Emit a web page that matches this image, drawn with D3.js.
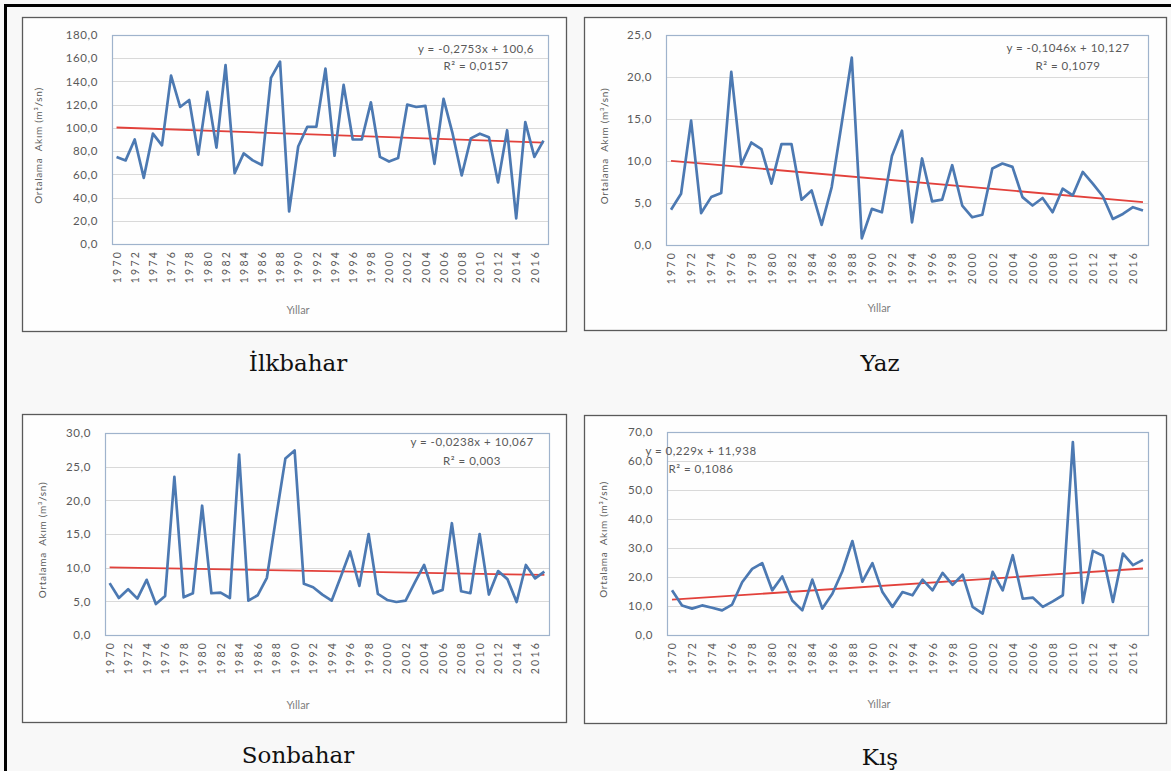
<!DOCTYPE html>
<html><head><meta charset="utf-8">
<script src="https://cdn.jsdelivr.net/npm/d3@7"></script>
<style>body{margin:0;background:#f8f8f8}svg{display:block}</style>
</head><body><svg id="c" width="1171" height="771"></svg>
<script>
const years = [1970,1971,1972,1973,1974,1975,1976,1977,1978,1979,1980,1981,1982,1983,1984,1985,1986,1987,1988,1989,1990,1991,1992,1993,1994,1995,1996,1997,1998,1999,2000,2001,2002,2003,2004,2005,2006,2007,2008,2009,2010,2011,2012,2013,2014,2015,2016,2017];
const tickYears = [1970,1972,1974,1976,1978,1980,1982,1984,1986,1988,1990,1992,1994,1996,1998,2000,2002,2004,2006,2008,2010,2012,2014,2016];

const ilkbahar = [75,72,90,57,95,85,145,118,124,77,131,83,154,61,78,72,68,143,157,28,84,101,101,151,76,137,90,90,122,75,71,74,120,118,119,69,125,95,59,91,95,92,53,98,22,105,75,89];
const yaz = [4.2,6.1,14.8,3.8,5.7,6.2,20.6,9.6,12.2,11.4,7.3,12.0,12.0,5.4,6.5,2.4,6.9,14.5,22.3,0.8,4.3,3.9,10.6,13.6,2.7,10.3,5.2,5.4,9.5,4.7,3.3,3.6,9.1,9.7,9.3,5.7,4.7,5.6,3.9,6.7,5.9,8.7,7.3,5.8,3.1,3.7,4.5,4.1];
const sonbahar = [7.7,5.5,6.8,5.4,8.2,4.6,5.8,23.5,5.6,6.2,19.2,6.2,6.3,5.5,26.8,5.1,5.9,8.5,17.5,26.2,27.4,7.6,7.1,6.0,5.1,8.7,12.4,7.3,15.0,6.1,5.2,4.9,5.1,7.8,10.4,6.2,6.7,16.6,6.5,6.2,15.0,6.0,9.5,8.3,4.9,10.4,8.4,9.4];
const kis = [15.4,10.2,9.1,10.2,9.4,8.5,10.5,18.2,22.8,24.8,15.4,20.2,11.9,8.5,19.1,9.1,14.2,22.0,32.4,18.4,24.8,14.8,9.7,14.8,13.7,19.1,15.4,21.4,17.3,20.8,9.7,7.4,21.8,15.4,27.5,12.5,12.9,9.7,11.6,13.7,66.5,11.1,29.0,27.3,11.4,28.1,24.1,25.9];

const titles = ["İlkbahar","Yaz","Sonbahar","Kış"];
const equations = ["y = -0,2753x + 100,6","y = -0,1046x + 10,127","y = -0,0238x + 10,067","y = 0,229x + 11,938"];
const rSquared = ["R² = 0,0157","R² = 0,1079","R² = 0,003","R² = 0,1086"];
const slopes = [-0.2753,-0.1046,-0.0238,0.229];
const intercepts = [100.6,10.127,10.067,11.938];
const yMaxes = [180,25,30,70];
const ySteps = [20,5,5,10];
const yTitle = "Ortalama  Akım (m³/sn)";
const xTitle = "Yıllar";

const seriesList = [ilkbahar, yaz, sonbahar, kis];

// layout
const layouts = [
  {box:[22,17,566,331], plot:[112,35,548,244], yt:38, xt:310, eq:[476,49,66], title:[298,363]},
  {box:[584,17,1166,330], plot:[666,35,1148,245], yt:604, xt:308, eq:[1068,48,66], title:[880,363]},
  {box:[22,414,566,722], plot:[105,433,549,635], yt:42, xt:705, eq:[472,442,461], title:[298,755]},
  {box:[584,415,1166,723], plot:[667,432,1148,635], yt:603, xt:704, eq:[701,451,469], title:[880,757]}
];

const svg = d3.select("#c");
svg.append("rect").attr("width",1171).attr("height",771).attr("fill","#f8f8f8");
// outer border
svg.append("line").attr("x1",5.5).attr("x2",5.5).attr("y1",4).attr("y2",771).attr("stroke","#000").attr("stroke-width",3);
svg.append("line").attr("x1",4).attr("x2",1171).attr("y1",5.5).attr("y2",5.5).attr("stroke","#000").attr("stroke-width",3);

const fmt = d => d3.format(".1f")(d).replace(".", ",");
const txtColor = "#595959";
const font = "Lato, 'Open Sans', sans-serif";

layouts.forEach((L, i) => {
  const data = seriesList[i];
  const [bx0,by0,bx1,by1] = L.box;
  const [px0,py0,px1,py1] = L.plot;
  const g = svg.append("g");
  g.append("rect").attr("x",bx0+0.5).attr("y",by0+0.5).attr("width",bx1-bx0).attr("height",by1-by0)
    .attr("fill","#fefefe").attr("stroke","#5a5a5a").attr("stroke-width",1.3);

  const x = d3.scalePoint().domain(years).range([px0,px1]).padding(0.5);
  const y = d3.scaleLinear().domain([0,yMaxes[i]]).range([py1,py0]);
  const yTicks = d3.range(0, yMaxes[i] + ySteps[i]/2, ySteps[i]);

  // gridlines
  g.append("g").selectAll("line").data(yTicks.slice(1)).join("line")
    .attr("x1",px0).attr("x2",px1).attr("y1",d=>Math.round(y(d))+0.5).attr("y2",d=>Math.round(y(d))+0.5)
    .attr("stroke","#d9d9d9").attr("stroke-width",1);

  // plot area border
  g.append("rect").attr("x",px0+0.5).attr("y",py0+0.5).attr("width",px1-px0).attr("height",py1-py0)
    .attr("fill","none").attr("stroke","#9fb3cc").attr("stroke-width",1.2);

  // y axis
  const ya = g.append("g").attr("transform",`translate(${px0},0)`)
    .call(d3.axisLeft(y).tickValues(yTicks).tickFormat(fmt).tickSize(0).tickPadding(14));
  ya.select(".domain").remove();
  ya.selectAll("text").attr("fill",txtColor).style("font-family",font).style("font-size","11.5px").style("letter-spacing","0.6px");

  // x axis
  const xa = g.append("g").attr("transform",`translate(0,${py1})`)
    .call(d3.axisBottom(x).tickValues(tickYears).tickSize(0).tickFormat(d=>String(d)));
  xa.select(".domain").remove();
  xa.selectAll("text").attr("fill",txtColor).style("font-family",font).style("font-size","10.5px")
    .style("letter-spacing","2.2px")
    .attr("text-anchor","end").attr("transform","translate(0,6) rotate(-90)").attr("x",0).attr("y",0).attr("dy","0.35em");

  // trend line
  const t0 = slopes[i]*1 + intercepts[i], t1 = slopes[i]*years.length + intercepts[i];
  g.append("line").attr("x1",x(years[0])).attr("x2",x(years[years.length-1]))
    .attr("y1",y(t0)).attr("y2",y(t1)).attr("stroke","#e2413b").attr("stroke-width",1.8);

  // data line
  g.append("path").datum(data)
    .attr("d", d3.line().x((d,k)=>x(years[k])).y(d=>y(d)))
    .attr("fill","none").attr("stroke","#4c79b2").attr("stroke-width",2.7).attr("stroke-linejoin","round");

  // equation
  const eqStyle = sel => sel.attr("text-anchor","middle").attr("dy","0.35em").attr("fill",txtColor)
    .style("font-family",font).style("font-size","11.5px").style("letter-spacing","0.5px");
  g.append("text").attr("x",L.eq[0]).attr("y",L.eq[1]).call(eqStyle).text(equations[i]);
  g.append("text").attr("x",L.eq[0]).attr("y",L.eq[2]).call(eqStyle).text(rSquared[i]);

  // axis titles
  g.append("text").attr("transform",`translate(${L.yt},${(py0+py1)/2+6}) rotate(-90)`)
    .attr("text-anchor","middle").attr("dy","0.35em").attr("fill",txtColor)
    .style("font-family",font).style("font-size","10px").style("letter-spacing","0.7px").style("white-space","pre").text(yTitle);
  g.append("text").attr("x",(bx0+bx1)/2+4).attr("y",L.xt).attr("text-anchor","middle").attr("dy","0.35em")
    .attr("fill","#7f7f7f").style("font-family",font).style("font-size","11px").text(xTitle);

  // panel title
  svg.append("text").attr("x",L.title[0]).attr("y",L.title[1]).attr("text-anchor","middle").attr("dy","0.35em")
    .attr("fill","#111").style("font-family","'DejaVu Serif', serif").style("font-size","23px").text(titles[i]);
});
</script></body></html>
